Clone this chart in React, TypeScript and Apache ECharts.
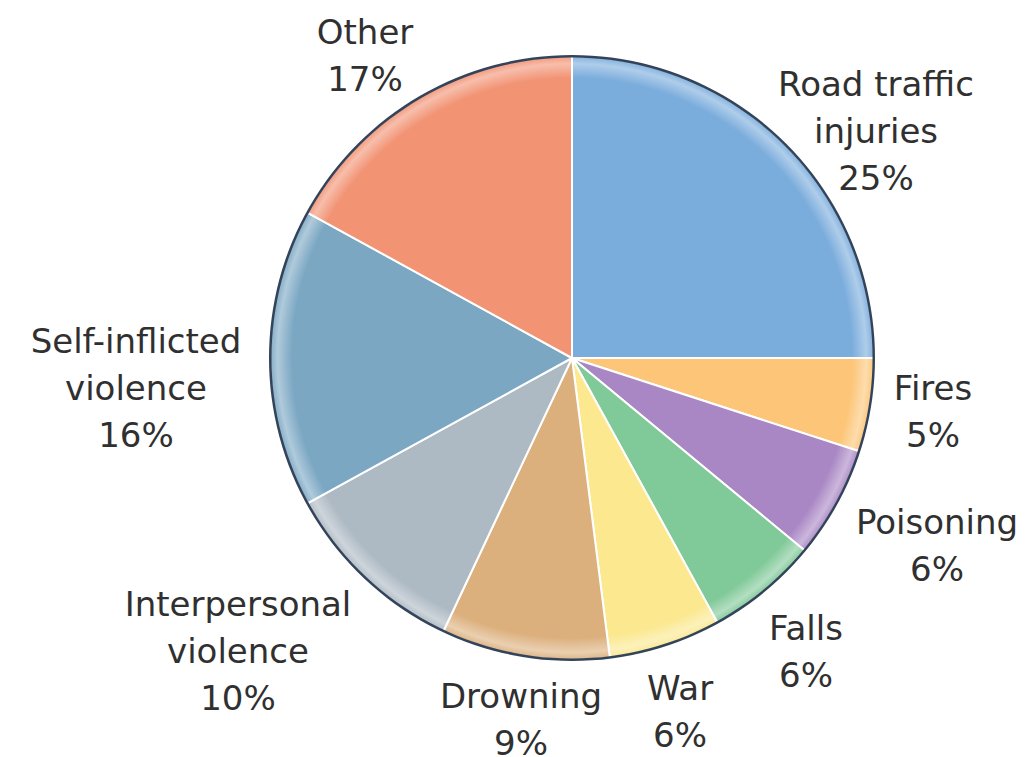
import React, { useEffect, useRef } from "react";
import * as echarts from "echarts";

const categories = [
  "Road traffic\ninjuries",
  "Fires",
  "Poisoning",
  "Falls",
  "War",
  "Drowning",
  "Interpersonal\nviolence",
  "Self-inflicted\nviolence",
  "Other",
];
const values = [25, 5, 6, 6, 6, 9, 10, 16, 17];
const colors = [
  "#7aacdc",
  "#fcc577",
  "#a987c4",
  "#80c998",
  "#fbe88f",
  "#dcb07d",
  "#adb9c3",
  "#7ba7c3",
  "#f29374",
];
// label anchor points (centre of each label block), in px
const labelPos: [number, number][] = [
  [876, 131],
  [933, 411],
  [937, 545],
  [806, 651],
  [680, 711],
  [521, 719],
  [238, 651],
  [136, 388],
  [365, 55],
];

const CX = 572;
const CY = 358;
const R = 302;

export default function App() {
  const ref = useRef<HTMLDivElement>(null);
  useEffect(() => {
    if (!ref.current) return;
    const chart = echarts.init(ref.current, null, { renderer: "svg" });
    chart.setOption({
      animation: false,
      backgroundColor: "#ffffff",
      series: [
        {
          type: "pie",
          z: 2,
          center: [CX, CY],
          radius: [0, R],
          startAngle: 90,
          clockwise: true,
          silent: true,
          itemStyle: { borderColor: "#ffffff", borderWidth: 2 },
          label: {
            show: true,
            position: "outside",
            formatter: "{b}\n{c}%",
            fontFamily: "DejaVu Sans",
            fontSize: 34,
            lineHeight: 47,
            color: "#303030",
            align: "center",
            overflow: "none",
          },
          labelLine: { show: false },
          labelLayout: (params: any) => {
            const p = labelPos[params.dataIndex];
            return { x: p[0], y: p[1], align: "center", verticalAlign: "middle" };
          },
          data: categories.map((c, i) => ({
            name: c,
            value: values[i],
            itemStyle: { color: colors[i] },
          })),
        },
        {
          type: "pie",
          z: 3,
          center: [CX, CY],
          radius: [R - 22, R - 1],
          silent: true,
          label: { show: false },
          labelLine: { show: false },
          itemStyle: {
            color: {
              type: "radial",
              x: 0.5,
              y: 0.5,
              r: 0.5,
              colorStops: [
                { offset: 0.93, color: "rgba(255,255,255,0)" },
                { offset: 0.978, color: "rgba(255,255,255,0.4)" },
                { offset: 1, color: "rgba(255,255,255,0.1)" },
              ],
            },
          },
          data: [{ value: 1, name: "glow" }],
        },
        {
          type: "pie",
          z: 4,
          center: [CX, CY],
          radius: [R - 1.5, R + 1],
          silent: true,
          label: { show: false },
          labelLine: { show: false },
          itemStyle: { color: "#33445a" },
          data: [{ value: 1, name: "rim" }],
        },
      ],
    });
    return () => chart.dispose();
  }, []);
  return (
    <div
      ref={ref}
      style={{ position: "fixed", left: 0, top: 0, width: 1031, height: 757 }}
    />
  );
}
